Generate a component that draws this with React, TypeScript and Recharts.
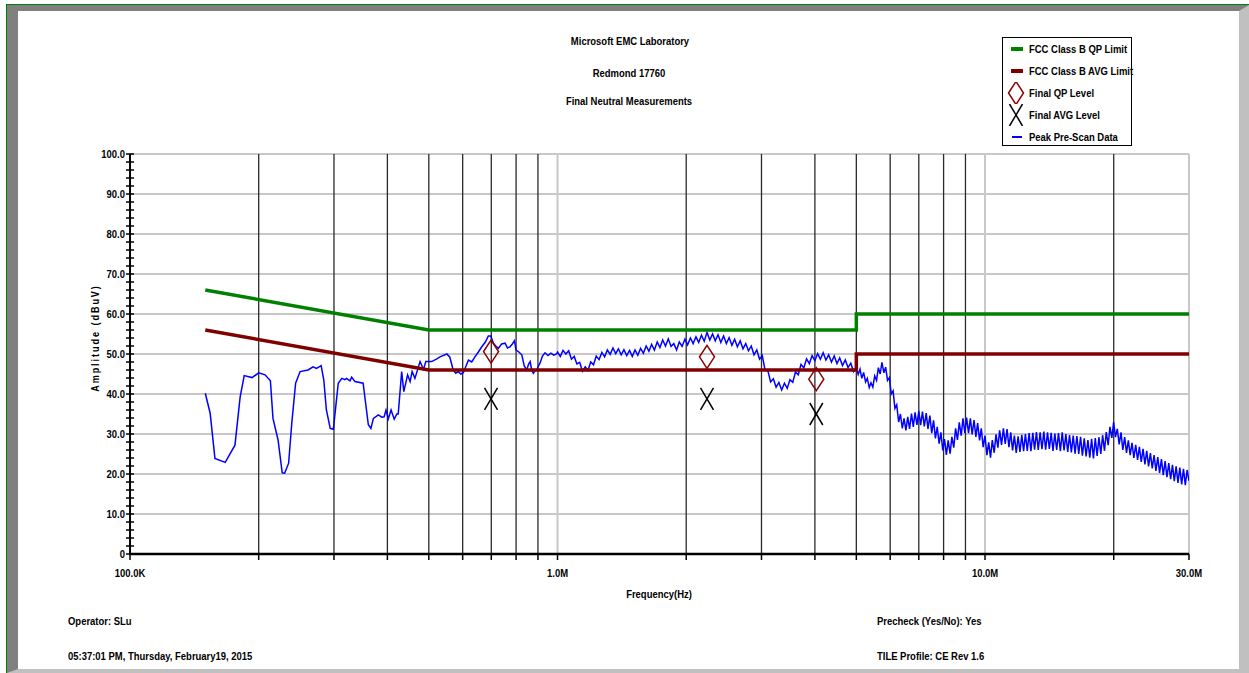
import React from "react";
import { ComposedChart, Line, Scatter, XAxis, YAxis, ReferenceLine } from "recharts";

const FONT = "'Liberation Sans',Arial,sans-serif";
const NARROW = 0.86;

const titles = ["Microsoft EMC Laboratory", "Redmond 17760", "Final Neutral Measurements"];
const footerLeft = ["Operator: SLu", "05:37:01 PM, Thursday, February19, 2015"];
const footerRight = ["Precheck (Yes/No): Yes", "TILE Profile: CE Rev 1.6"];

const legendNames = [
  "FCC Class B QP Limit",
  "FCC Class B AVG Limit",
  "Final QP Level",
  "Final AVG Level",
  "Peak Pre-Scan Data",
];

// limits (Hz, dBuV)
const qpLimit = [
  { f: 150000, v: 66 },
  { f: 500000, v: 56 },
  { f: 5000000, v: 56 },
  { f: 5000000, v: 60 },
  { f: 30000000, v: 60 },
];
const avgLimit = [
  { f: 150000, v: 56 },
  { f: 500000, v: 46 },
  { f: 5000000, v: 46 },
  { f: 5000000, v: 50 },
  { f: 30000000, v: 50 },
];

const finalQp = [
  { f: 699000, v: 50.6 },
  { f: 2237000, v: 49.3 },
  { f: 4030000, v: 43.7 },
];
const finalAvg = [
  { f: 699000, v: 38.8 },
  { f: 2237000, v: 38.8 },
  { f: 4030000, v: 35.0 },
];

// peak pre-scan, [kHz, dBuV]
const scanLow: [number, number][] = [
  [150, 40.2], [154, 35.2], [158, 23.9], [167, 22.9], [176, 27.2], [181, 39.3], [185, 44.6],
  [193, 44.1], [200, 45.3], [207, 44.8], [213, 43.3], [216, 33.9], [222, 28.5], [227, 20.3],
  [230, 20.2], [235, 22.7], [239, 32.7], [244, 42.7], [250, 45.6], [261, 46.0], [268, 46.8],
  [273, 46.4], [280, 47.1], [284, 43.5], [288, 36.0], [294, 31.4], [299, 31.2], [307, 42.7],
  [313, 43.9], [318, 43.6], [321, 43.9], [327, 43.3], [330, 44.2], [336, 43.1], [351, 42.7],
  [355, 38.5], [361, 32.3], [366, 31.4], [371, 33.9], [381, 34.8], [388, 34.2], [393, 34.3],
  [397, 36.0], [402, 33.8], [408, 36.0], [415, 33.7], [421, 35.0], [424, 35.0], [432, 45.6],
  [437, 40.6], [446, 44.8], [452, 43.1], [457, 45.6], [464, 43.9], [477, 48.1], [486, 46.2],
  [492, 48.1], [508, 48.1], [522, 48.8], [531, 49.3], [551, 50.0], [560, 49.2], [570, 46.0],
  [578, 45.2], [586, 45.6], [594, 45.0], [602, 45.3], [619, 48.5], [630, 48.0], [641, 49.3],
  [653, 50.5], [665, 51.8], [678, 53.0], [689, 54.5], [698, 54.5], [708, 52.7], [717, 52.0],
  [727, 51.4], [740, 52.5], [754, 52.7], [764, 51.5], [774, 51.8], [784, 52.5], [793, 53.3],
  [800, 51.0], [812, 50.5], [825, 49.8], [836, 47.0], [847, 46.0], [856, 47.5], [863, 48.1],
  [870, 46.0], [878, 45.2], [886, 45.8], [894, 46.0], [902, 47.0], [910, 47.7], [922, 49.5],
  [935, 50.3], [950, 49.6], [965, 50.2], [980, 49.7], [995, 50.0],
];
const scanMid: [number, number][] = [
  [1000, 50.5], [1015, 49.4], [1030, 50.9], [1046, 50.0], [1062, 50.8], [1078, 48.7], [1094, 49.4],
  [1110, 47.5], [1127, 47.9], [1144, 45.7], [1161, 46.8], [1178, 45.9], [1196, 48.0], [1214, 47.3],
  [1232, 49.5], [1251, 48.6], [1270, 50.4], [1289, 49.3], [1308, 51.0], [1328, 49.9], [1348, 51.5],
  [1368, 50.1], [1388, 51.3], [1409, 49.8], [1430, 51.1], [1452, 49.6], [1474, 50.9], [1496, 49.4],
  [1518, 51.0], [1541, 49.7], [1564, 51.4], [1588, 50.2], [1612, 52.0], [1636, 50.7], [1660, 52.4],
  [1685, 51.0], [1711, 53.0], [1736, 51.6], [1762, 53.5], [1789, 52.0], [1816, 53.8], [1843, 51.9],
  [1871, 52.6], [1899, 51.0], [1927, 53.0], [1956, 51.9], [1986, 53.7], [2015, 52.3], [2046, 54.0],
  [2076, 52.6], [2108, 54.3], [2139, 52.9], [2171, 54.7], [2204, 53.2], [2237, 55.4], [2271, 53.5],
  [2305, 55.0], [2339, 53.3], [2374, 54.8], [2410, 52.9], [2446, 54.5], [2483, 52.6], [2520, 54.1],
  [2558, 52.2], [2596, 53.7], [2635, 51.8], [2675, 53.3], [2715, 51.3], [2756, 52.6], [2797, 50.8],
  [2839, 52.0], [2882, 49.8], [2925, 51.0], [2969, 48.7], [3013, 49.6], [3059, 45.9], [3104, 45.9],
  [3151, 43.0], [3198, 43.8], [3246, 41.7], [3295, 42.9], [3345, 41.0], [3395, 42.7], [3446, 41.4],
  [3497, 43.6], [3550, 42.9], [3603, 45.5], [3657, 44.8], [3712, 47.4], [3768, 46.5], [3824, 48.8],
  [3882, 47.6], [3940, 49.6], [3999, 48.3], [4059, 50.1], [4120, 48.7], [4182, 50.3], [4244, 48.5],
  [4308, 49.8], [4373, 48.0], [4438, 49.5], [4505, 47.6], [4572, 49.0], [4641, 47.1], [4711, 48.5],
  [4781, 46.6], [4853, 47.7], [4926, 45.6],
];
const scanHigh: [number, number][] = [
  [5000, 46.6], [5050, 44.9], [5100, 46.2], [5150, 43.9], [5200, 45.4], [5255, 43.0], [5305, 43.9],
  [5360, 41.6], [5410, 42.8], [5465, 41.7], [5520, 44.5], [5575, 43.4], [5630, 46.6], [5685, 45.0],
  [5740, 47.9], [5800, 45.3], [5855, 46.7], [5915, 43.4], [5975, 44.1], [6035, 40.0], [6095, 40.8],
  [6155, 36.4], [6215, 37.3], [6280, 33.0], [6340, 35.0], [6405, 31.4], [6465, 33.9], [6530, 30.9],
  [6595, 34.3], [6660, 31.3], [6730, 35.1], [6795, 31.8], [6860, 35.4], [6930, 32.3], [7000, 35.8],
  [7070, 32.2], [7140, 35.6], [7210, 31.9], [7285, 35.2], [7355, 31.3], [7430, 34.6], [7505, 30.2],
  [7580, 33.4], [7655, 28.9], [7730, 31.8], [7810, 27.6], [7885, 30.4], [7965, 25.9], [8040, 28.7],
  [8120, 24.8], [8200, 28.4], [8285, 25.1], [8365, 29.3], [8450, 26.6], [8535, 31.4], [8620, 28.5],
  [8705, 32.9], [8795, 29.6], [8880, 33.9], [8970, 30.3], [9055, 34.1], [9150, 30.2], [9240, 33.9],
  [9330, 29.9], [9425, 33.5], [9520, 29.3], [9610, 32.7], [9710, 28.4], [9800, 31.4], [9900, 26.7],
  [10000, 29.6], [10100, 24.7], [10200, 27.9], [10300, 24.1], [10400, 28.5], [10505, 25.3], [10610, 29.9],
  [10715, 26.6], [10820, 30.9], [10930, 27.3], [11040, 31.4], [11150, 27.5], [11260, 31.2], [11375, 26.7],
  [11485, 30.4], [11600, 25.9], [11715, 29.6], [11830, 25.3], [11950, 29.4], [12070, 25.5], [12190, 29.8],
  [12310, 25.7], [12430, 30.0], [12555, 25.8], [12680, 30.2], [12805, 25.7], [12935, 30.3], [13060, 26.1],
  [13190, 30.5], [13320, 26.0], [13455, 30.4], [13590, 26.2], [13725, 30.6], [13860, 26.1], [14000, 30.4],
  [14140, 26.3], [14280, 30.3], [14420, 25.8], [14565, 30.1], [14710, 26.0], [14855, 30.2], [15005, 25.7],
  [15155, 30.4], [15305, 25.9], [15455, 30.0], [15610, 25.5], [15765, 29.7], [15920, 25.4], [16080, 29.6],
  [16240, 25.1], [16400, 29.5], [16565, 25.0], [16730, 29.3], [16895, 24.6], [17065, 28.9], [17235, 24.4],
  [17405, 28.5], [17580, 24.1], [17755, 28.8], [17930, 23.9], [18110, 29.0], [18290, 24.5], [18470, 29.2],
  [18655, 25.0], [18840, 29.7], [19030, 25.8], [19215, 30.5], [19410, 27.2], [19600, 31.8], [19795, 29.0],
  [19990, 33.0], [20190, 29.2], [20390, 31.3], [20595, 27.4], [20800, 30.4], [21005, 26.0], [21215, 29.2],
  [21425, 25.3], [21640, 28.4], [21855, 24.7], [22070, 27.8], [22290, 24.0], [22515, 27.3], [22740, 23.5],
  [22965, 26.8], [23195, 23.0], [23425, 26.3], [23660, 22.4], [23890, 25.8], [24130, 21.9], [24370, 25.2],
  [24610, 21.4], [24855, 24.7], [25105, 20.8], [25355, 24.2], [25605, 20.3], [25860, 23.7], [26120, 19.7],
  [26380, 23.2], [26640, 19.2], [26905, 22.7], [27175, 18.7], [27445, 22.3], [27715, 18.2], [27990, 21.9],
  [28270, 17.8], [28550, 21.6], [28835, 17.4], [29120, 21.3], [29410, 17.2], [29700, 21.0], [30000, 18.3],
];
const peakData = [...scanLow, ...scanMid, ...scanHigh].map(([k, v]) => ({ f: k * 1000, v }));

// axes
const freqTicks = [
  100000, 200000, 300000, 400000, 500000, 600000, 700000, 800000, 900000,
  1000000, 2000000, 3000000, 4000000, 5000000, 6000000, 7000000, 8000000, 9000000,
  10000000, 20000000, 30000000,
];
const freqLabels: Record<number, string> = {
  100000: "100.0K",
  1000000: "1.0M",
  10000000: "10.0M",
  30000000: "30.0M",
};
const darkGrid = [
  200000, 300000, 400000, 500000, 600000, 700000, 800000, 900000,
  2000000, 3000000, 4000000, 5000000, 6000000, 7000000, 8000000, 9000000, 20000000,
];
const lightGrid = [1000000, 10000000, 30000000];

const ampTicks = [
  0, 2, 4, 6, 8, 10, 12, 14, 16, 18, 20, 22, 24, 26, 28, 30, 32, 34, 36, 38, 40, 42, 44, 46, 48, 50,
  52, 54, 56, 58, 60, 62, 64, 66, 68, 70, 72, 74, 76, 78, 80, 82, 84, 86, 88, 90, 92, 94, 96, 98, 100,
];
const ampGrid = [10, 20, 30, 40, 50, 60, 70, 80, 90, 100];
const ampLabels: Record<number, string> = {
  0: "0", 10: "10.0", 20: "20.0", 30: "30.0", 40: "40.0", 50: "50.0",
  60: "60.0", 70: "70.0", 80: "80.0", 90: "90.0", 100: "100.0",
};

function AmpTick(props: any) {
  const { x, y, payload } = props;
  const label = ampLabels[payload.value];
  return (
    <g>
      <line x1={x - 4} x2={x + 4} y1={y} y2={y} stroke="#000" strokeWidth={1.5} />
      {label && (
        <text
          transform={`translate(${x - 5},${y + 4}) scale(${NARROW},1)`}
          textAnchor="end" fontSize={11} fontWeight="bold" fontFamily={FONT} fill="#000"
        >
          {label}
        </text>
      )}
    </g>
  );
}

function FreqTick(props: any) {
  const { x, y, payload } = props;
  const label = freqLabels[payload.value];
  return (
    <g>
      <line x1={x} x2={x} y1={y} y2={y + 6} stroke="#000" strokeWidth={1.5} />
      {label && (
        <text
          transform={`translate(${x},${y + 23}) scale(${NARROW},1)`}
          textAnchor="middle" fontSize={11} fontWeight="bold" fontFamily={FONT} fill="#000"
        >
          {label}
        </text>
      )}
    </g>
  );
}

function Diamond(props: any) {
  const { cx, cy } = props;
  return (
    <polygon
      points={`${cx},${cy - 11.5} ${cx + 7.5},${cy} ${cx},${cy + 11.5} ${cx - 7.5},${cy}`}
      fill="none"
      stroke="#8b0000"
      strokeWidth={1.5}
    />
  );
}

function Cross(props: any) {
  const { cx, cy } = props;
  return (
    <g stroke="#000" strokeWidth={1.5}>
      <line x1={cx - 6.5} y1={cy - 11} x2={cx + 6.5} y2={cy + 11} />
      <line x1={cx + 6.5} y1={cy - 11} x2={cx - 6.5} y2={cy + 11} />
    </g>
  );
}

function Txt({ x, y, children, anchor }: any) {
  return (
    <div
      style={{
        position: "absolute",
        left: x,
        top: y - 8,
        height: 16,
        lineHeight: "16px",
        fontSize: 11,
        fontWeight: 700,
        fontFamily: FONT,
        whiteSpace: "nowrap",
        transformOrigin: "left center",
        transform: anchor === "middle" ? `scaleX(${NARROW}) translateX(-50%)` : `scaleX(${NARROW})`,
      }}
    >
      {children}
    </div>
  );
}

function LegendIcon({ i }: { i: number }) {
  return (
    <svg width={22} height={22} style={{ position: "absolute", left: 0, top: 0 }}>
      {i === 0 && <line x1={8} x2={20} y1={11} y2={11} stroke="#008000" strokeWidth={4} />}
      {i === 1 && <line x1={8} x2={20} y1={11} y2={11} stroke="#800000" strokeWidth={4} />}
      {i === 2 && <Diamond cx={13} cy={11} />}
      {i === 3 && <Cross cx={13} cy={11} />}
      {i === 4 && <line x1={9} x2={19} y1={11} y2={11} stroke="#0000ff" strokeWidth={2} />}
    </svg>
  );
}

export default function App() {
  return (
    <div style={{ position: "absolute", left: 0, top: 0, width: 1249, height: 673, background: "#fff", overflow: "hidden" }}>
      <div style={{ position: "absolute", left: 6, top: 4, right: 0, bottom: 0, borderTop: "1px solid #008000", borderLeft: "1px solid #008000" }} />
      <div
        style={{
          position: "absolute", left: 7, top: 5, width: 1242, height: 668, boxSizing: "border-box",
          borderTop: "6px solid #808080", borderLeft: "11px solid #808080",
          borderRight: "10px solid #c0c0c0", borderBottom: "4px solid #c0c0c0",
        }}
      />

      <div style={{ position: "absolute", left: 0, top: 0 }}>
        <ComposedChart width={1249} height={673} margin={{ top: 154, right: 60, bottom: 89, left: 70 }}>
          <XAxis
            dataKey="f"
            type="number"
            scale="log"
            domain={[100000, 30000000]}
            allowDataOverflow
            ticks={freqTicks}
            interval={0}
            tickSize={0}
            tickMargin={0}
            tickLine={false}
            tick={<FreqTick />}
            height={30}
            axisLine={{ stroke: "#000", strokeWidth: 2.5 }}
          />
          <YAxis
            type="number"
            domain={[0, 100]}
            ticks={ampTicks}
            interval={0}
            tickSize={0}
            tickMargin={0}
            tickLine={false}
            tick={<AmpTick />}
            width={60}
            axisLine={{ stroke: "#000", strokeWidth: 2 }}
          />
          {ampGrid.map((v) => (
            <ReferenceLine key={"h" + v} y={v} stroke="#c8c8c8" strokeWidth={2} />
          ))}
          {lightGrid.map((f) => (
            <ReferenceLine key={"l" + f} x={f} stroke="#c8c8c8" strokeWidth={2} />
          ))}
          {darkGrid.map((f) => (
            <ReferenceLine key={"d" + f} x={f} stroke="#2a2a2a" strokeWidth={1.3} />
          ))}
          <Line data={peakData} dataKey="v" type="linear" stroke="#0000ff" strokeWidth={1.5} dot={false} isAnimationActive={false} />
          <Line data={qpLimit} dataKey="v" type="linear" stroke="#008000" strokeWidth={3.5} dot={false} isAnimationActive={false} />
          <Line data={avgLimit} dataKey="v" type="linear" stroke="#800000" strokeWidth={3.5} dot={false} isAnimationActive={false} />
          <Scatter data={finalQp} dataKey="v" shape={<Diamond />} isAnimationActive={false} />
          <Scatter data={finalAvg} dataKey="v" shape={<Cross />} isAnimationActive={false} />
        </ComposedChart>
      </div>

      <Txt x={630} y={41} anchor="middle">{titles[0]}</Txt>
      <Txt x={629} y={73} anchor="middle">{titles[1]}</Txt>
      <Txt x={629} y={101} anchor="middle">{titles[2]}</Txt>

      <div
        style={{
          position: "absolute", left: 95, top: 338,
          transform: `translate(-50%,-50%) rotate(-90deg) scaleX(0.82)`,
          fontFamily: FONT, fontSize: 11, letterSpacing: "2.4px",
          whiteSpace: "nowrap", fontWeight: 700,
        }}
      >
        Amplitude (dBuV)
      </div>
      <Txt x={659} y={594} anchor="middle">Frequency(Hz)</Txt>

      <Txt x={68} y={621}>{footerLeft[0]}</Txt>
      <Txt x={68} y={656}>{footerLeft[1]}</Txt>
      <Txt x={877} y={621}>{footerRight[0]}</Txt>
      <Txt x={877} y={656}>{footerRight[1]}</Txt>

      <div style={{ position: "absolute", left: 1002, top: 37, width: 130, height: 109, boxSizing: "border-box", border: "1.5px solid #000" }}>
        {legendNames.map((name, i) => (
          <div key={name} style={{ position: "absolute", left: 0, top: i * 22, width: 128, height: 22 }}>
            <LegendIcon i={i} />
            <div
              style={{
                position: "absolute", left: 26, top: 3, fontSize: 11, fontWeight: 700, fontFamily: FONT,
                whiteSpace: "nowrap", lineHeight: "16px", transformOrigin: "left center", transform: `scaleX(${NARROW})`,
              }}
            >
              {name}
            </div>
          </div>
        ))}
      </div>
    </div>
  );
}
